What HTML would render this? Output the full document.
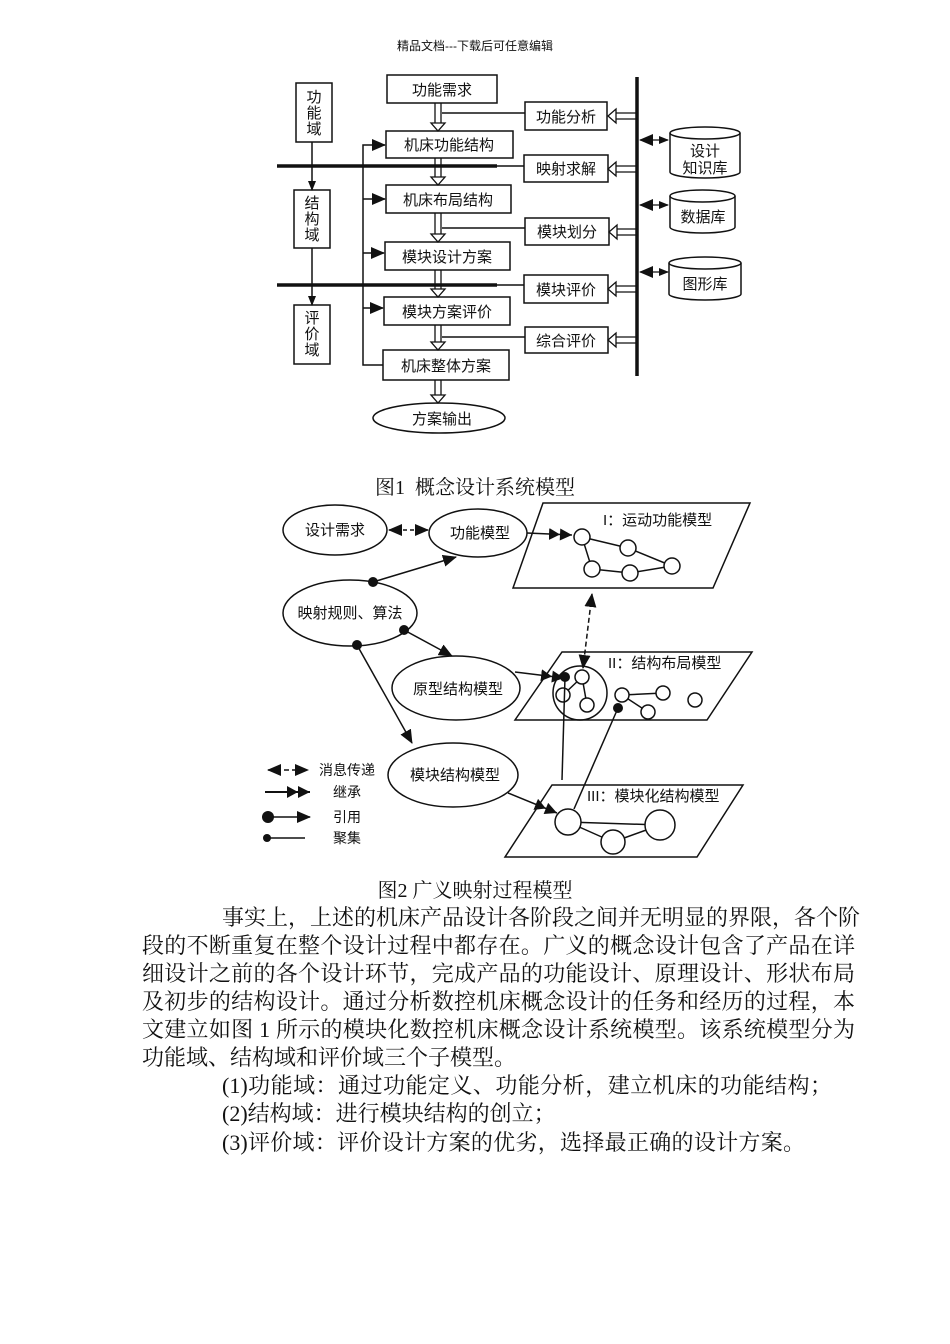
<!DOCTYPE html>
<html><head><meta charset="utf-8"><style>
body{margin:0;background:#fff;}
#pg{position:relative;width:950px;height:1344px;overflow:hidden;background:#fff;}
svg{position:absolute;left:0;top:0;}
.t{font-family:"Liberation Sans","Noto Sans CJK SC",sans-serif;fill:#111;}
.ln{position:absolute;left:142px;width:713px;font-family:"Liberation Serif","Noto Serif CJK SC",serif;font-size:22px;line-height:28px;height:28px;white-space:nowrap;color:#111;text-align:justify;text-align-last:justify;}
.cap{position:absolute;width:950px;left:0;text-align:center;font-family:"Liberation Serif","Noto Serif CJK SC",serif;font-size:20px;color:#111;}
</style></head><body><div id="pg">
<div style="position:absolute;top:37px;left:0;width:950px;text-align:center;font-family:'Liberation Sans','Noto Sans CJK SC',sans-serif;font-size:12px;color:#111;">精品文档---下载后可任意编辑</div>
<svg width="950" height="1344" viewBox="0 0 950 1344">
<defs>
<marker id="ah" markerWidth="10" markerHeight="10" refX="9" refY="5" orient="auto" markerUnits="userSpaceOnUse"><path d="M0,1 L10,5 L0,9z" fill="#111"/></marker>
<marker id="ah2" markerWidth="14" markerHeight="12" refX="13" refY="6" orient="auto" markerUnits="userSpaceOnUse"><path d="M0,0 L14,6 L0,12z" fill="#111"/></marker>
<marker id="ahs" markerWidth="14" markerHeight="12" refX="1" refY="6" orient="auto" markerUnits="userSpaceOnUse"><path d="M14,0 L0,6 L14,12z" fill="#111"/></marker>
<marker id="dd" markerWidth="24" markerHeight="12" refX="23" refY="6" orient="auto" markerUnits="userSpaceOnUse"><path d="M0,0 L11,6 L0,12z M11,0 L23,6 L11,12z" fill="#111"/></marker>
<marker id="dot" markerWidth="12" markerHeight="12" refX="6" refY="6" markerUnits="userSpaceOnUse"><circle cx="6" cy="6" r="5" fill="#111"/></marker>
</defs>
<g stroke="#111" stroke-width="1.5" fill="none">
<rect x="387" y="75" width="110" height="28"/>
<rect x="386" y="131" width="127" height="27"/>
<rect x="386" y="185" width="125" height="28"/>
<rect x="385" y="242" width="125" height="28"/>
<rect x="384" y="297" width="126" height="28"/>
<rect x="383" y="350" width="126" height="30"/>
<ellipse cx="439" cy="418" rx="66" ry="15"/>
<rect x="296" y="83" width="36" height="59"/>
<rect x="294" y="190" width="36" height="58"/>
<rect x="294" y="305" width="36" height="59"/>
<line x1="312" y1="142" x2="312" y2="190" marker-end="url(#ah)"/>
<line x1="312" y1="248" x2="312" y2="305" marker-end="url(#ah)"/>
<polyline points="383,365 363,365 363,145 385,145" marker-end="url(#ah2)"/>
<line x1="363" y1="199" x2="385" y2="199" marker-end="url(#ah2)"/>
<line x1="363" y1="253" x2="384" y2="253" marker-end="url(#ah2)"/>
<line x1="363" y1="308" x2="383" y2="308" marker-end="url(#ah2)"/>
<line x1="277" y1="166" x2="497" y2="166" stroke-width="3.5"/>
<line x1="497" y1="166" x2="524" y2="166"/>
<line x1="277" y1="285" x2="497" y2="285" stroke-width="3.5"/>
<line x1="497" y1="285" x2="524" y2="285"/>
<rect x="525" y="102" width="82" height="28"/>
<rect x="524" y="155" width="84" height="27"/>
<rect x="525" y="218" width="84" height="27"/>
<rect x="524" y="275" width="84" height="28"/>
<rect x="525" y="327" width="83" height="26"/>
<line x1="442" y1="113" x2="525" y2="113"/>
<line x1="442" y1="228" x2="525" y2="228"/>
<line x1="442" y1="337" x2="525" y2="337"/>
<line x1="637" y1="77" x2="637" y2="376" stroke-width="3.5"/>
<path d="M670,133 L670,172 A35,6 0 0 0 740,172 L740,133"/><ellipse cx="705" cy="133" rx="35" ry="6"/>
<path d="M670,196 L670,227 A32.5,6 0 0 0 735,227 L735,196"/><ellipse cx="702.5" cy="196" rx="32.5" ry="6"/>
<path d="M669,263 L669,294 A36,6 0 0 0 741,294 L741,263"/><ellipse cx="705" cy="263" rx="36" ry="6"/>
<g stroke-width="1.2">
<line x1="640" y1="140" x2="668" y2="140" marker-end="url(#ah)" marker-start="url(#ahs)"/>
<line x1="640" y1="205" x2="668" y2="205" marker-end="url(#ah)" marker-start="url(#ahs)"/>
<line x1="640" y1="272" x2="668" y2="272" marker-end="url(#ah)" marker-start="url(#ahs)"/>
</g>
</g>
<g stroke="#111" stroke-width="1.3" fill="#fff">
<path d="M435,103 V123 M441,103 V123 M431,123 H445 L438,131 Z"/>
<path d="M435,158 V177 M441,158 V177 M431,177 H445 L438,185 Z"/>
<path d="M435,213 V234 M441,213 V234 M431,234 H445 L438,242 Z"/>
<path d="M435,270 V289 M441,270 V289 M431,289 H445 L438,297 Z"/>
<path d="M435,325 V342 M441,325 V342 M431,342 H445 L438,350 Z"/>
<path d="M435,380 V395 M441,380 V395 M431,395 H445 L438,403 Z"/>
<path d="M636,113 H616 M636,119 H616 M616,109 V123 L608,116 Z"/>
<path d="M636,166 H616 M636,172 H616 M616,162 V176 L608,169 Z"/>
<path d="M636,229 H617 M636,235 H617 M617,225 V239 L609,232 Z"/>
<path d="M636,286 H616 M636,292 H616 M616,282 V296 L608,289 Z"/>
<path d="M636,337 H616 M636,343 H616 M616,333 V347 L608,340 Z"/>
</g>
<g class="t" font-size="15" text-anchor="middle">
<text x="442" y="95">功能需求</text>
<text x="449" y="150">机床功能结构</text>
<text x="448" y="205">机床布局结构</text>
<text x="447" y="262">模块设计方案</text>
<text x="447" y="317">模块方案评价</text>
<text x="446" y="371">机床整体方案</text>
<text x="442" y="424">方案输出</text>
<text x="566" y="122">功能分析</text>
<text x="566" y="174">映射求解</text>
<text x="567" y="237">模块划分</text>
<text x="566" y="295">模块评价</text>
<text x="566" y="346">综合评价</text>
<text x="705" y="156">设计</text>
<text x="705" y="173">知识库</text>
<text x="703" y="222">数据库</text>
<text x="705" y="289">图形库</text>
<text x="314" y="102">功</text><text x="314" y="118">能</text><text x="314" y="134">域</text>
<text x="312" y="208">结</text><text x="312" y="224">构</text><text x="312" y="240">域</text>
<text x="312" y="323">评</text><text x="312" y="339">价</text><text x="312" y="355">域</text>
</g>
<g stroke="#111" stroke-width="1.5" fill="none">
<ellipse cx="335" cy="530" rx="52" ry="25"/>
<ellipse cx="478" cy="533" rx="49" ry="24"/>
<ellipse cx="350" cy="613" rx="67" ry="33"/>
<ellipse cx="456" cy="688" rx="64" ry="32"/>
<ellipse cx="453" cy="775" rx="65" ry="32"/>
<polygon points="543,503 750,503 713,588 513,588"/>
<polygon points="562,652 752,652 707,720 515,720"/>
<polygon points="552,785 743,785 697,857 505,857"/>
<line x1="582" y1="537" x2="628" y2="548"/><line x1="582" y1="537" x2="592" y2="569"/>
<line x1="592" y1="569" x2="630" y2="573"/><line x1="630" y1="573" x2="672" y2="566"/><line x1="628" y1="548" x2="672" y2="566"/>
<circle cx="580" cy="693" r="27"/>
<line x1="582" y1="677" x2="587" y2="705"/><line x1="582" y1="677" x2="563" y2="695"/>
<line x1="622" y1="695" x2="663" y2="693"/><line x1="622" y1="695" x2="648" y2="712"/>
<line x1="568" y1="822" x2="660" y2="825"/><line x1="568" y1="822" x2="613" y2="842"/><line x1="613" y1="842" x2="660" y2="825"/>
</g>
<g stroke="#111" stroke-width="1.5" fill="#fff">
<circle cx="582" cy="537" r="8"/><circle cx="628" cy="548" r="8"/><circle cx="672" cy="566" r="8"/><circle cx="592" cy="569" r="8"/><circle cx="630" cy="573" r="8"/>
<circle cx="582" cy="677" r="7"/><circle cx="563" cy="695" r="7"/><circle cx="587" cy="705" r="7"/>
<circle cx="622" cy="695" r="7"/><circle cx="663" cy="693" r="7"/><circle cx="648" cy="712" r="7"/><circle cx="695" cy="700" r="7"/>
<circle cx="568" cy="822" r="13"/><circle cx="660" cy="825" r="15"/><circle cx="613" cy="842" r="12"/>
</g>
<g stroke="#111" stroke-width="1.5" fill="none">
<line x1="389" y1="530" x2="428" y2="530" stroke-dasharray="4,3" marker-start="url(#ahs)" marker-end="url(#ah2)"/>
<line x1="527" y1="533" x2="572" y2="535" marker-end="url(#dd)"/>
<line x1="373" y1="582" x2="456" y2="557" marker-start="url(#dot)" marker-end="url(#ah2)"/>
<line x1="404" y1="630" x2="452" y2="656" marker-start="url(#dot)" marker-end="url(#ah2)"/>
<line x1="357" y1="645" x2="412" y2="743" marker-start="url(#dot)" marker-end="url(#ah2)"/>
<line x1="515" y1="672" x2="564" y2="678" marker-end="url(#dd)"/>
<line x1="508" y1="793" x2="557" y2="813" marker-end="url(#dd)"/>
<line x1="592" y1="594" x2="583" y2="668" stroke-dasharray="5,3" marker-start="url(#ahs)" marker-end="url(#ah2)"/>
<line x1="565" y1="677" x2="562" y2="780" marker-start="url(#dot)"/>
<line x1="618" y1="708" x2="574" y2="809" marker-start="url(#dot)"/>
<line x1="268" y1="770" x2="308" y2="770" stroke-dasharray="5,3" marker-start="url(#ahs)" marker-end="url(#ah2)"/>
<line x1="265" y1="792" x2="310" y2="792" stroke-width="2" marker-end="url(#dd)"/>
<line x1="268" y1="817" x2="310" y2="817" marker-start="url(#dot)" marker-end="url(#ah2)"/>
<line x1="267" y1="838" x2="305" y2="838"/>
</g>
<circle cx="267" cy="838" r="4" fill="#111"/>
<circle cx="268" cy="817" r="6" fill="#111"/>
<g class="t" font-size="15">
<text x="335" y="535" text-anchor="middle">设计需求</text>
<text x="480" y="538" text-anchor="middle">功能模型</text>
<text x="350" y="618" text-anchor="middle">映射规则、算法</text>
<text x="458" y="694" text-anchor="middle">原型结构模型</text>
<text x="455" y="780" text-anchor="middle">模块结构模型</text>
<text x="603" y="525">I：运动功能模型</text>
<text x="608" y="668">II：结构布局模型</text>
<text x="587" y="801">III：模块化结构模型</text>
<text x="319" y="775" font-size="14">消息传递</text>
<text x="333" y="797" font-size="14">继承</text>
<text x="333" y="822" font-size="14">引用</text>
<text x="333" y="843" font-size="14">聚集</text>
</g>
</svg>
<div class="cap" style="top:471px;">图1&nbsp;&nbsp;概念设计系统模型</div>
<div class="cap" style="top:874px;">图2 广义映射过程模型</div>
<div class="ln" style="top:904px;left:222px;width:633px;">事实上，上述的机床产品设计各阶段之间并无明显的界限，各个阶</div>
<div class="ln" style="top:932px;">段的不断重复在整个设计过程中都存在。广义的概念设计包含了产品在详</div>
<div class="ln" style="top:960px;">细设计之前的各个设计环节，完成产品的功能设计、原理设计、形状布局</div>
<div class="ln" style="top:988px;">及初步的结构设计。通过分析数控机床概念设计的任务和经历的过程，本</div>
<div class="ln" style="top:1016px;">文建立如图 1 所示的模块化数控机床概念设计系统模型。该系统模型分为</div>
<div class="ln" style="top:1044px;text-align-last:left;">功能域、结构域和评价域三个子模型。</div>
<div class="ln" style="top:1072px;left:222px;width:610px;">(1)功能域：通过功能定义、功能分析，建立机床的功能结构；</div>
<div class="ln" style="top:1100px;left:222px;text-align-last:left;">(2)结构域：进行模块结构的创立；</div>
<div class="ln" style="top:1129px;left:222px;width:583px;">(3)评价域：评价设计方案的优劣，选择最正确的设计方案。</div>
</div></body></html>
